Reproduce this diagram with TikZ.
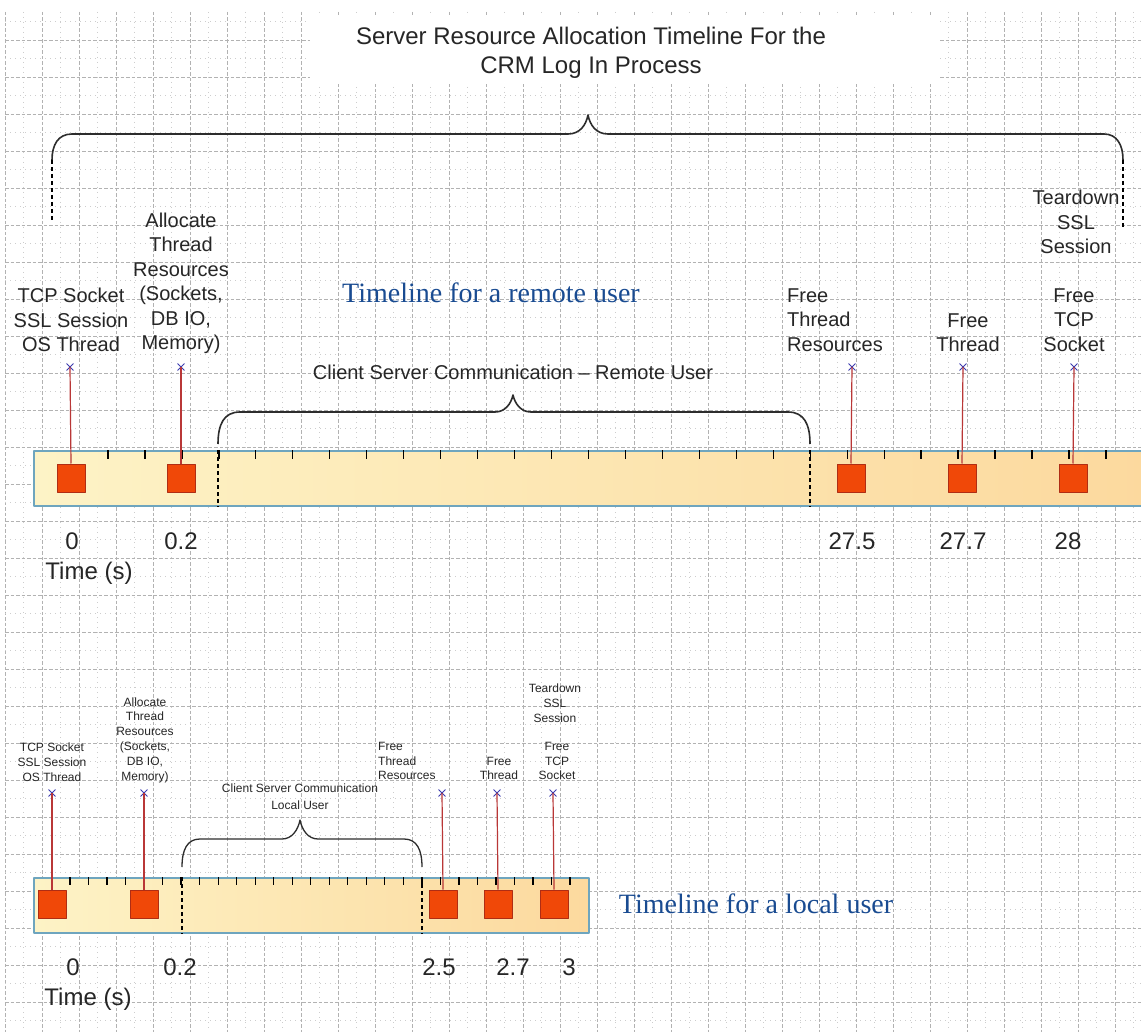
\documentclass[tikz,border=0pt]{standalone}
\usepackage{fontspec}
\setmainfont{Liberation Sans}
\newfontfamily\captionfont{Liberation Serif}
\usetikzlibrary{shapes.misc}

\definecolor{gridgray}{RGB}{178,178,178}
\definecolor{griddot}{RGB}{205,205,205}
\definecolor{barline}{RGB}{110,165,190}
\definecolor{barleft}{RGB}{253,243,198}
\definecolor{barright}{RGB}{252,217,158}
\definecolor{evfill}{RGB}{240,72,8}
\definecolor{evdraw}{RGB}{175,45,20}
\definecolor{stemred}{RGB}{185,55,55}
\definecolor{xblue}{RGB}{60,60,175}
\definecolor{capblue}{RGB}{25,75,145}
\definecolor{bracegray}{RGB}{45,45,45}

\tikzset{
  majorgrid/.style={gridgray, line width=0.8pt, dash pattern=on 3.5pt off 2pt},
  minorgrid/.style={griddot, line width=0.8pt, dash pattern=on 1pt off 4pt},
  timebar/.style={draw=barline, line width=1.6pt, left color=barleft, right color=barright,
    inner sep=0pt, anchor=north west, minimum height=55pt},
  event/.style={draw=evdraw, fill=evfill, line width=1pt, minimum size=28pt, inner sep=0pt},
  xmark/.style={cross out, draw=xblue, line width=0.9pt, minimum size=6pt, inner sep=0pt},
  stem/.style={stemred, line width=1.2pt},
  tickmark/.style={line width=1.3pt},
  cutline/.style={line width=1.3pt, dash pattern=on 4pt off 3pt},
  bracket/.style={draw=bracegray, line width=1.6pt},
  biglabel/.style={font=\fontsize{20}{24.5}\selectfont, align=center, inner sep=0pt, text=black!85},
  smalllabel/.style={font=\fontsize{12}{14.8}\selectfont, align=center, inner sep=0pt, text=black!85},
  axislabel/.style={font=\fontsize{24}{28}\selectfont, inner sep=0pt, text=black!85},
  linecaption/.style={font=\captionfont\fontsize{28}{32}\selectfont, text=capblue, inner sep=0pt},
}

\begin{document}
\begin{tikzpicture}[x=1pt, y=-1pt, line join=round, line cap=butt]
  \useasboundingbox (0,0) rectangle (1141,1032);
  \fill[white] (0,0) rectangle (1141,1032);
  % grid paper
  \foreach \k in {-1,...,29}{
    \draw[majorgrid] ({42.3+37*\k},12) -- ({42.3+37*\k},1032);
    \draw[minorgrid] ({60.8+37*\k},12) -- ({60.8+37*\k},1032);
  }
  \foreach \k in {1,...,27}{\draw[majorgrid] (5,{3+37*\k}) -- (1141,{3+37*\k});}
  \foreach \k in {0,...,27}{\draw[minorgrid] (5,{21.5+37*\k}) -- (1141,{21.5+37*\k});}
  \fill[white] (310,16) rectangle (940,84);

  % title and the big brace
  \node[font=\fontsize{24}{29}\selectfont, align=center, inner sep=0pt, text=black!85] (title) at (591,52.5)
    {Server Resource Allocation Timeline For the\\CRM Log In Process};
  \coordinate (bigL) at (52,160);
  \coordinate (bigR) at (1123,160);
  \draw[bracket] (bigL) .. controls (52,145) and (58,134) .. (72,134) -- (568,134)
    .. controls (580,134) and (586,125) .. (588,115)
    .. controls (590,125) and (596,134) .. (608,134) -- (1104,134)
    .. controls (1117,134) and (1123,145) .. (bigR);
  \draw[cutline] (bigL) -- (52,222);
  \draw[cutline] (bigR) -- (1123,228);

  % remote user timeline
  \node[timebar, minimum width=1114pt] (rbar) at (33,450) {};
  \foreach \k in {0,...,27}{\draw[tickmark] ({108+36.96*\k},450) -- ++(0,9);}
  \draw[cutline] (218,0 |- rbar.north) -- (218,0 |- rbar.south);
  \draw[cutline] (810,0 |- rbar.north) -- (810,0 |- rbar.south);
  \foreach \n/\sx/\mx in {1/71/70, 2/181/181, 3/851/852, 4/962/963, 5/1073/1074}{
    \node[xmark] (rx\n) at (\mx,367) {};
    \node[event] (r\n) at (\sx,478) {};
    \draw[stem] (r\n.north) -- (rx\n.center);
  }
  \coordinate (rbL) at (218,444);
  \coordinate (rbR) at (810,444);
  \draw[bracket] (rbL) .. controls (218,424) and (224,412) .. (240,412) -- (495,412)
    .. controls (505,412) and (511,404) .. (513,395)
    .. controls (515,404) and (521,412) .. (531,412) -- (788,412)
    .. controls (804,412) and (810,424) .. (rbR);

  \node[biglabel] (rtcp) at (71,320) {TCP Socket\\SSL Session\\OS Thread};
  \node[biglabel] (ralloc) at (181,283.5) {Allocate\\Thread\\Resources\\(Sockets,\\DB IO,\\Memory)};
  \node[biglabel, align=left, anchor=west] (rfreeres) at (787,320) {Free\\Thread\\Resources};
  \node[biglabel] (rfreethr) at (968,332.5) {Free\\Thread};
  \node[biglabel] (rfreetcp) at (1074,320) {Free\\TCP\\Socket};
  \node[biglabel] (rtear) at (1076,222) {Teardown\\SSL\\Session};
  \node[biglabel] (rcomm) at (513,372) {Client Server Communication -- Remote User};
  \node[linecaption] (rcap) at (491,293) {Timeline for a remote user};

  \foreach \n/\px/\t in {1/72/0, 2/181/0.2, 3/852/27.5, 4/963/27.7, 5/1068/28}{
    \node[axislabel] (rt\n) at (\px,541) {\t};
  }
  \node[axislabel] (rtime) at (89,573) {Time (s)};

  % local user timeline
  \node[timebar, minimum width=555pt] (lbar) at (33,877) {};
  \foreach \k in {0,...,27}{\draw[tickmark] ({70+18.52*\k},877) -- ++(0,8);}
  \draw[cutline] (182,0 |- lbar.north) -- (182,0 |- lbar.south);
  \draw[cutline] (422,0 |- lbar.north) -- (422,0 |- lbar.south);
  \foreach \n/\sx/\mx in {1/52/52, 2/144/144, 3/443/442, 4/498/497, 5/554/553}{
    \node[xmark] (lx\n) at (\mx,793) {};
    \node[event] (l\n) at (\sx,904) {};
    \draw[stem] (l\n.north) -- (lx\n.center);
  }
  \coordinate (lbL) at (182,867);
  \coordinate (lbR) at (422,867);
  \draw[bracket, line width=1.3pt] (lbL) .. controls (182,850) and (187,839) .. (200,839) -- (282,839)
    .. controls (292,839) and (298,830) .. (300,820)
    .. controls (302,830) and (308,839) .. (318,839) -- (404,839)
    .. controls (417,839) and (422,850) .. (lbR);

  \node[smalllabel] (ltcp) at (52,762) {TCP Socket\\SSL Session\\OS Thread};
  \node[smalllabel] (lalloc) at (145,740) {Allocate\\Thread\\Resources\\(Sockets,\\DB IO,\\Memory)};
  \node[smalllabel, align=left, anchor=west] (lfreeres) at (378,761) {Free\\Thread\\Resources};
  \node[smalllabel] (lfreethr) at (499,768.5) {Free\\Thread};
  \node[smalllabel] (lfreetcp) at (557,761) {Free\\TCP\\Socket};
  \node[smalllabel] (ltear) at (555,703) {Teardown\\SSL\\Session};
  \node[smalllabel, font=\fontsize{12}{17}\selectfont] (lcomm) at (300,796.5) {Client Server Communication\\Local User};
  \node[linecaption] (lcap) at (756,904) {Timeline for a local user};

  \foreach \n/\px/\t in {1/73/0, 2/180/0.2, 3/439/2.5, 4/513/2.7, 5/569/3}{
    \node[axislabel] (lt\n) at (\px,967) {\t};
  }
  \node[axislabel] (ltime) at (88,999) {Time (s)};
\end{tikzpicture}
\end{document}
